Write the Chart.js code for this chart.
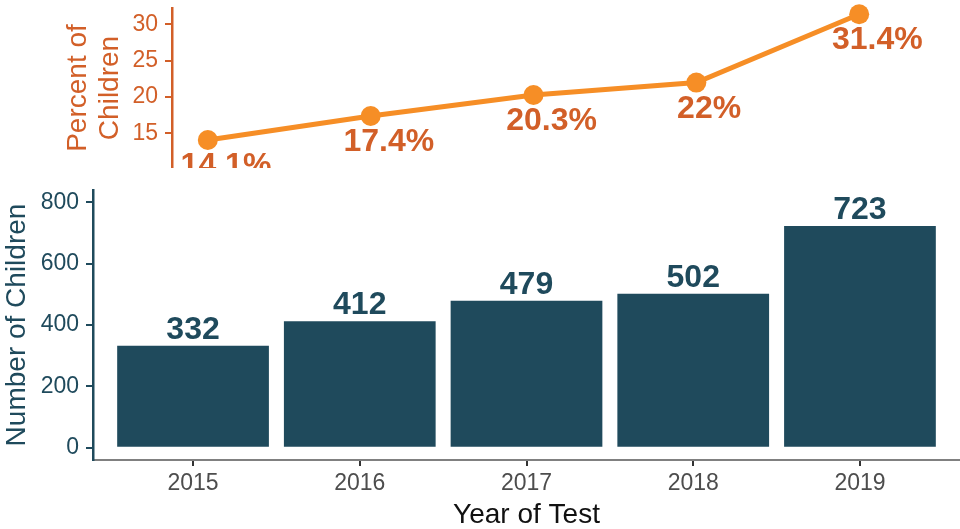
<!DOCTYPE html>
<html>
<head>
<meta charset="utf-8">
<script src="https://cdn.jsdelivr.net/npm/chart.js@4.4.1/dist/chart.umd.min.js"></script>
<style>
  html, body { margin: 0; padding: 0; background: #ffffff; }
  body { width: 960px; height: 529px; position: relative; overflow: hidden; }
  #topBox { position: absolute; left: 0; top: 0; width: 960px; height: 168px; }
  #botBox { position: absolute; left: 0; top: 168px; width: 960px; height: 361px; }
</style>
</head>
<body>
<div id="topBox"><canvas id="topChart"></canvas></div>
<div id="botBox"><canvas id="botChart"></canvas></div>
<script>
// ---- Data ----
const years = [2015, 2016, 2017, 2018, 2019];
const childCounts = [332, 412, 479, 502, 723];
const percentChildren = [14.1, 17.4, 20.3, 22, 31.4];
const countTicks = [0, 200, 400, 600, 800];
const percentTicks = [15, 20, 25, 30];

// ---- Styles ----
const FONT = '"Liberation Sans", Arial, Helvetica, sans-serif';
const TEAL = '#1f4a5c';
const ORANGE = '#f68e26';
const DARK_ORANGE = '#d25f28';

Chart.defaults.font.family = FONT;
Chart.defaults.animation = false;

// ---- Top line chart ----
const pctLabels = {
  id: 'pctLabels',
  afterDatasetsDraw(chart) {
    const ctx = chart.ctx;
    const meta = chart.getDatasetMeta(0);
    ctx.save();
    ctx.font = 'bold 32px ' + FONT;
    ctx.fillStyle = DARK_ORANGE;
    ctx.textAlign = 'left';
    ctx.textBaseline = 'alphabetic';
    meta.data.forEach((pt, i) => {
      const txt = String(percentChildren[i]) + '%';
      const w = ctx.measureText(txt).width;
      ctx.fillText(txt, pt.x - 0.3 * w, pt.y + 35);
    });
    ctx.restore();
  }
};

new Chart(document.getElementById('topChart'), {
  type: 'line',
  data: {
    datasets: [{
      data: years.map((y, i) => ({ x: y, y: percentChildren[i] })),
      borderColor: ORANGE,
      backgroundColor: ORANGE,
      borderWidth: 5,
      pointRadius: 10,
      pointBorderWidth: 0,
      pointBackgroundColor: ORANGE,
      tension: 0,
      clip: false
    }]
  },
  options: {
    responsive: true,
    maintainAspectRatio: false,
    devicePixelRatio: 1,
    layout: { autoPadding: false, padding: { left: 0, right: 65, top: 8, bottom: 0 } },
    plugins: { legend: { display: false }, tooltip: { enabled: false } },
    events: [],
    scales: {
      x: { type: 'linear', display: false, min: 2014.78, max: 2019.22 },
      y: {
        type: 'linear',
        min: 10.25,
        max: 32.265,
        afterBuildTicks(scale) { scale.ticks = percentTicks.map(v => ({ value: v })); },
        afterFit(scale) { scale.width = 172; scale.paddingTop = 0; scale.paddingBottom = 0; },
        border: { display: true, color: DARK_ORANGE, width: 2.5 },
        grid: { drawOnChartArea: false, drawTicks: true, tickLength: 7, color: DARK_ORANGE, lineWidth: 2 },
        ticks: { color: DARK_ORANGE, font: { size: 23 }, padding: 7 },
        title: {
          display: true,
          text: ['Percent of', 'Children'],
          color: DARK_ORANGE,
          font: { size: 28, lineHeight: 1.14 },
          padding: { top: 62, bottom: 0 }
        }
      }
    }
  },
  plugins: [pctLabels]
});

// ---- Bottom bar chart ----
const barLabels = {
  id: 'barLabels',
  afterDatasetsDraw(chart) {
    const ctx = chart.ctx;
    const meta = chart.getDatasetMeta(0);
    ctx.save();
    ctx.font = 'bold 32px ' + FONT;
    ctx.fillStyle = TEAL;
    ctx.textAlign = 'center';
    ctx.textBaseline = 'alphabetic';
    meta.data.forEach((bar, i) => {
      ctx.fillText(String(childCounts[i]), bar.x, bar.y - 7);
    });
    ctx.restore();
  }
};

new Chart(document.getElementById('botChart'), {
  type: 'bar',
  data: {
    datasets: [{
      data: years.map((y, i) => ({ x: y, y: childCounts[i] })),
      backgroundColor: TEAL,
      borderWidth: 0,
      barPercentage: 0.91,
      categoryPercentage: 1.0
    }]
  },
  options: {
    responsive: true,
    maintainAspectRatio: false,
    devicePixelRatio: 1,
    layout: { autoPadding: false, padding: { left: 0, right: 0, top: 22, bottom: 0 } },
    plugins: { legend: { display: false }, tooltip: { enabled: false } },
    events: [],
    scales: {
      x: {
        type: 'linear',
        min: 2014.4,
        max: 2019.6,
        offset: false,
        afterBuildTicks(scale) { scale.ticks = years.map(v => ({ value: v })); },
        afterFit(scale) { scale.height = 69; },
        border: { display: true, color: '#808080', width: 2 },
        grid: { offset: false, drawOnChartArea: false, drawTicks: true, tickLength: 6, color: '#333333', lineWidth: 2 },
        ticks: { color: '#4d4d4d', font: { size: 23 }, padding: 4, callback: v => String(v) },
        title: {
          display: true,
          text: 'Year of Test',
          color: '#111111',
          font: { size: 28, lineHeight: 1.0 },
          padding: 0
        }
      },
      y: {
        type: 'linear',
        min: -40,
        max: 840,
        afterBuildTicks(scale) { scale.ticks = countTicks.map(v => ({ value: v })); },
        afterFit(scale) { scale.width = 93; },
        border: { display: true, color: TEAL, width: 2.5 },
        grid: { drawOnChartArea: false, drawTicks: true, tickLength: 7, color: TEAL, lineWidth: 2 },
        ticks: { color: TEAL, font: { size: 23 }, padding: 7 },
        title: {
          display: true,
          text: 'Number of Children',
          color: TEAL,
          font: { size: 28, lineHeight: 1.2 },
          padding: 0
        }
      }
    }
  },
  plugins: [barLabels]
});
</script>
</body>
</html>
